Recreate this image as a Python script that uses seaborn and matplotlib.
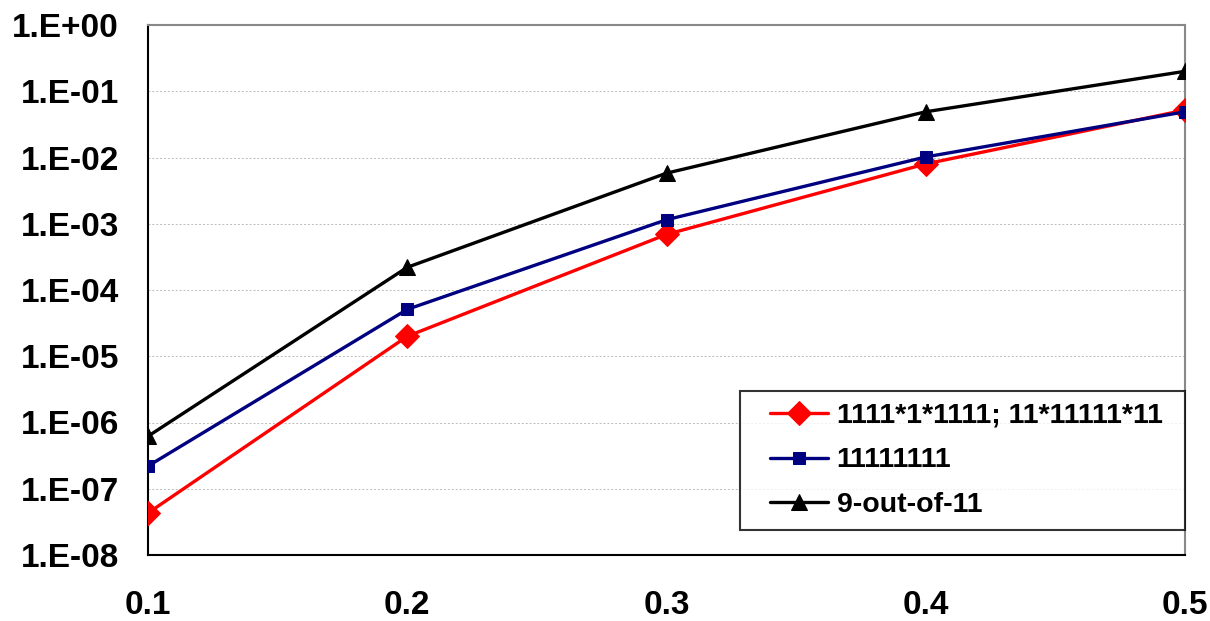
import matplotlib
matplotlib.use("Agg")
import matplotlib.pyplot as plt
import matplotlib.ticker as mticker
from matplotlib.lines import Line2D
from matplotlib.legend_handler import HandlerLine2D
import seaborn as sns
import pandas as pd
import numpy as np

x_vals = [0.1, 0.2, 0.3, 0.4, 0.5]
series_names = ["1111*1*1111; 11*11111*11", "11111111", "9-out-of-11"]
red_vals = [4.3e-8, 2.0e-5, 6.9e-4, 8.0e-3, 5.2e-2]
blue_vals = [2.2e-7, 5.1e-5, 1.15e-3, 1.02e-2, 4.9e-2]
black_vals = [6.2e-7, 2.2e-4, 5.8e-3, 4.9e-2, 2.0e-1]
x_ticklabels = ["0.1", "0.2", "0.3", "0.4", "0.5"]
y_ticks = [1e-8, 1e-7, 1e-6, 1e-5, 1e-4, 1e-3, 1e-2, 1e-1, 1e0]
y_ticklabels = ["1.E-08", "1.E-07", "1.E-06", "1.E-05", "1.E-04", "1.E-03", "1.E-02", "1.E-01", "1.E+00"]

sns.set_style("white")
plt.rcParams["font.family"] = ["Liberation Sans", "DejaVu Sans"]
plt.rcParams["text.color"] = "black"
plt.rcParams["xtick.color"] = "black"
plt.rcParams["ytick.color"] = "black"

df = pd.DataFrame({
    "x": x_vals * 3,
    "y": red_vals + blue_vals + black_vals,
    "series": [series_names[0]] * 5 + [series_names[1]] * 5 + [series_names[2]] * 5,
})

fig = plt.figure(figsize=(12.10, 6.21), dpi=100)
ax = fig.add_axes([148 / 1210, 1 - 555 / 621, (1185 - 148) / 1210, (555 - 25) / 621])

palette = {series_names[0]: "#FF0000", series_names[1]: "#000080", series_names[2]: "#000000"}
markers = {series_names[0]: "D", series_names[1]: "s", series_names[2]: "^"}
sizes_m = {series_names[0]: 12.5, series_names[1]: 9, series_names[2]: 11}

for name in series_names:
    sub = df[df["series"] == name]
    sns.lineplot(data=sub, x="x", y="y", ax=ax, color=palette[name], marker=markers[name],
                 markersize=sizes_m[name], markeredgecolor=palette[name], linewidth=2.4,
                 label=name, zorder=3)

ax.set_yscale("log")
ax.set_ylim(1e-8, 1.0)
ax.set_xlim(0.1, 0.5)
ax.set_xticks(x_vals)
ax.set_xticklabels(x_ticklabels)
ax.yaxis.set_major_locator(mticker.FixedLocator(y_ticks))
ax.yaxis.set_minor_locator(mticker.NullLocator())
ax.yaxis.set_major_formatter(mticker.FixedFormatter(y_ticklabels))
ax.set_xlabel("")
ax.set_ylabel("")
ax.xaxis.label.set_visible(False)
ax.yaxis.label.set_visible(False)

ax.grid(axis="y", color="#BBBBBB", linestyle=(0, (2, 2)), linewidth=0.7)
ax.grid(axis="x", visible=False)

for s in ["left", "bottom"]:
    ax.spines[s].set_color("black")
    ax.spines[s].set_linewidth(1.5)
for s in ["top", "right"]:
    ax.spines[s].set_color("#888888")
    ax.spines[s].set_linewidth(1.5)

ax.tick_params(axis="both", which="major", direction="out", length=7, width=1.5, color="black",
               labelsize=24, labelcolor="black")
ax.tick_params(axis="y", pad=14)
ax.tick_params(axis="x", pad=18)
for lbl in ax.get_xticklabels() + ax.get_yticklabels():
    lbl.set_fontweight("bold")

leg = ax.legend(loc="upper left",
                bbox_to_anchor=((740 - 148) / 1037, (555 - 527) / 530, 445 / 1037, 136 / 530),
                mode="expand", borderaxespad=0, frameon=True, fancybox=False, edgecolor="black",
                prop={"size": 20.5, "weight": "bold"}, handlelength=2.67, labelspacing=0.65,
                borderpad=0.42, handletextpad=0.3,
                handler_map={Line2D: HandlerLine2D(xpad=0.62)})
leg.get_frame().set_linewidth(1.5)
for t in leg.get_texts():
    t.set_color("black")

fig.savefig("out.png", dpi=100)
